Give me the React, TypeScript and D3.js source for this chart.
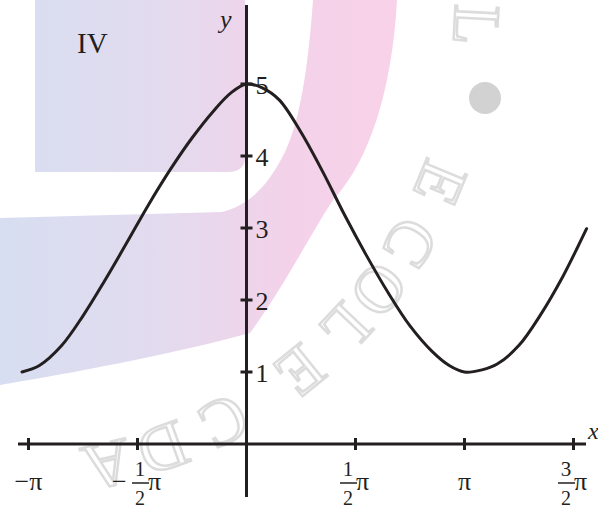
import React from "react";
import * as d3 from "d3";

// curve: x in multiples of pi, y in plain units
const curveX = [-1.03, -0.95, -0.85, -0.75, -0.65, -0.55, -0.45, -0.35, -0.25, -0.15, -0.07, 0, 0.07, 0.15, 0.25, 0.35, 0.45, 0.55, 0.65, 0.75, 0.85, 0.93, 1.0, 1.08, 1.15, 1.25, 1.35, 1.45, 1.52, 1.56];
const curveY = [1.0, 1.09, 1.36, 1.78, 2.27, 2.79, 3.32, 3.81, 4.25, 4.63, 4.88, 5.0, 4.95, 4.78, 4.33, 3.78, 3.18, 2.62, 2.1, 1.64, 1.29, 1.09, 1.0, 1.03, 1.11, 1.37, 1.8, 2.32, 2.74, 2.99];

const xTicks = [-1, -0.5, 0.5, 1, 1.5];
const xTickNum = ["", "1", "1", "", "3"];
const xTickDen = ["", "2", "2", "", "2"];
const xTickSign = ["\u2212", "\u2212", "", "", ""];
const yTicks = [1, 2, 3, 4, 5];

// faint watermark lettering round the logo (angle in degrees)
const wmLetters = ["L", "E", "C", "O", "L", "E", "C", "D", "A"];
const wmAngles = [3, 22.6, 30.6, 37.4, 43.5, 51, 62, 70, 77];

const width = 598;
const height = 511;
const ink = "#231f20";
const serif = "'Liberation Serif', 'Times New Roman', serif";

const App = () => {
  const x = d3.scaleLinear().domain([-1, 1.5]).range([28.5, 573.5]);
  const y = d3.scaleLinear().domain([0, 5]).range([444, 84]);

  const pts = curveX.map((v, i) => [v, curveY[i]] as [number, number]);
  const line = d3
    .line<[number, number]>()
    .x((d) => x(d[0]))
    .y((d) => y(d[1]))
    .curve(d3.curveCatmullRom.alpha(0.5));

  const wmR = 455;

  return (
    <svg width={width} height={height} style={{ position: "absolute", left: 0, top: 0, background: "#fff" }}>
      <defs>
        <linearGradient id="wm" gradientUnits="userSpaceOnUse" x1={0} y1={0} x2={400} y2={0}>
          <stop offset="0" stopColor="#d7def1" />
          <stop offset="0.4" stopColor="#e3dbef" />
          <stop offset="0.72" stopColor="#f3d2e9" />
          <stop offset="1" stopColor="#f9d2e9" />
        </linearGradient>
      </defs>

      {/* watermark in the background */}
      <g>
        <path d="M35,0 L245,0 L245,160 Q243,172 228,172 L35,172 Z" fill="url(#wm)" />
        <path
          d="M0,218 L222,212 C245,206 265,192 285,152 C300,120 308,70 313,0 L397,0 C392,90 370,160 333,200 C310,235 285,285 250,333 C180,352 100,368 0,385 Z"
          fill="url(#wm)"
        />
        <circle cx={485} cy={98} r={16} fill="#d2d2d2" />
        {wmLetters.map((ch, i) => {
          const a = (wmAngles[i] * Math.PI) / 180;
          return (
            <text
              key={"wm" + i}
              transform={`translate(${wmR * Math.cos(a)},${wmR * Math.sin(a)}) rotate(${wmAngles[i] + 90})`}
              textAnchor="middle"
              fontFamily={serif}
              fontSize={66}
              fill="none"
              stroke="#dcdcdc"
              strokeWidth={2.5}
            >
              {ch}
            </text>
          );
        })}
      </g>

      {/* axes */}
      <line x1={18} x2={586} y1={y(0)} y2={y(0)} stroke={ink} strokeWidth={3} />
      <line x1={x(0)} x2={x(0)} y1={5} y2={497} stroke={ink} strokeWidth={3} />

      {xTicks.map((t, i) => (
        <g key={"xt" + i} transform={`translate(${x(t)},0)`}>
          <line y1={y(0) - 6} y2={y(0) + 6} stroke={ink} strokeWidth={3} />
        </g>
      ))}
      {yTicks.map((t) => (
        <g key={"yt" + t} transform={`translate(0,${y(t)})`}>
          <line x1={x(0) - 6} x2={x(0) + 6} stroke={ink} strokeWidth={3} />
          <text x={x(0) + 9} y={10} fontFamily={serif} fontSize={26} fill={ink}>
            {t}
          </text>
        </g>
      ))}

      {/* x tick labels: sign, optional fraction, pi */}
      {xTicks.map((t, i) => {
        const cx = x(t);
        const hasFrac = xTickNum[i] !== "";
        if (!hasFrac) {
          return (
            <text key={"xl" + i} x={cx} y={490} textAnchor="middle" fontFamily={serif} fontSize={26} fill={ink}>
              {xTickSign[i] + "\u03c0"}
            </text>
          );
        }
        const signW = xTickSign[i] ? 20 : 0;
        const left = cx - (signW + 31) / 2;
        const fx = left + signW + 8;
        return (
          <g key={"xl" + i}>
            {xTickSign[i] && (
              <text x={left} y={490} fontFamily={serif} fontSize={26} fill={ink}>
                {xTickSign[i]}
              </text>
            )}
            <text x={fx} y={476} textAnchor="middle" fontFamily={serif} fontSize={21} fill={ink}>
              {xTickNum[i]}
            </text>
            <line x1={fx - 8} x2={fx + 9} y1={483} y2={483} stroke={ink} strokeWidth={1.5} />
            <text x={fx} y={505} textAnchor="middle" fontFamily={serif} fontSize={20} fill={ink}>
              {xTickDen[i]}
            </text>
            <text x={fx + 8} y={490} fontFamily={serif} fontSize={26} fill={ink}>
              {"\u03c0"}
            </text>
          </g>
        );
      })}

      {/* axis names and panel label */}
      <text x={588} y={439} fontFamily={serif} fontStyle="italic" fontSize={24} fill={ink}>
        x
      </text>
      <text x={220} y={28} fontFamily={serif} fontStyle="italic" fontSize={26} fill={ink}>
        y
      </text>
      <text x={77} y={53} fontFamily={serif} fontSize={29} fill={ink}>
        IV
      </text>

      <path d={line(pts) ?? ""} fill="none" stroke={ink} strokeWidth={3} strokeLinecap="round" />
    </svg>
  );
};

export default App;
